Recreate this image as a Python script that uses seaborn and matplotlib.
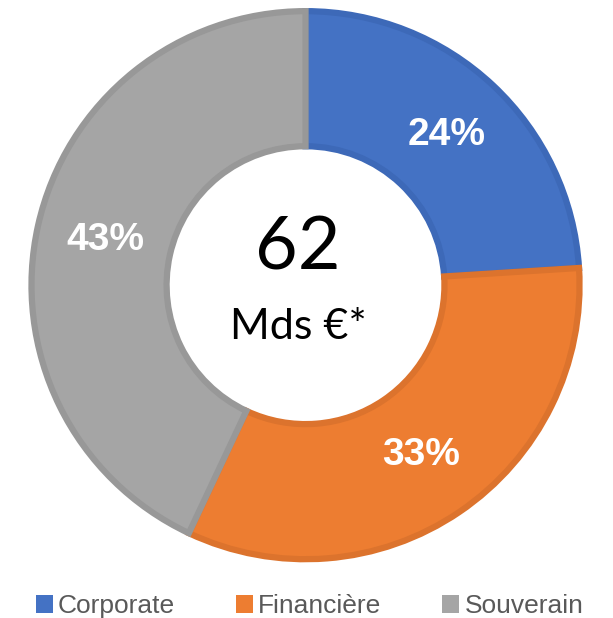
import numpy as np
import matplotlib
matplotlib.use("Agg")
import matplotlib.pyplot as plt
import seaborn as sns
from matplotlib.patches import Patch

# Data
categories = ["Corporate", "Financière", "Souverain"]
shares = [24, 33, 43]
fill_colors = ["#4472C4", "#ED7D31", "#A5A5A5"]
edge_colors = ["#3D69B8", "#DC732D", "#989898"]
center_value = "62"
center_unit = "Mds €*"

sns.set_theme(style="white")
plt.rcParams["font.family"] = ["Liberation Sans", "DejaVu Sans"]

fig = plt.figure(figsize=(6.13, 6.18), dpi=100)
ax = fig.add_axes([0.4984 - 0.4515, 0.5385 - 0.4478, 0.903, 0.8957])

wedges, texts, autotexts = ax.pie(
    shares,
    colors=fill_colors,
    startangle=90,
    counterclock=False,
    radius=1.0,
    autopct=lambda p: f"{p:.0f}%",
    pctdistance=0.75,
    wedgeprops=dict(width=0.493, linewidth=4.5),
    textprops=dict(color="white", fontsize=28, fontweight="bold"),
)
# darker outline drawn only inside each slice
for w, ec in zip(wedges, edge_colors):
    w.set_edgecolor(ec)
    w.set_clip_path(w)

ax.text(-0.027, 0.057, center_value, ha="center", va="baseline",
        fontsize=53, family=["Lato", "DejaVu Sans"], color="black")
ax.text(-0.027, -0.195, center_unit, ha="center", va="baseline",
        fontsize=31, family=["Lato", "DejaVu Sans"], color="black")

ax.set_xlim(-1.01, 1.01)
ax.set_ylim(-1.01, 1.01)
ax.set_aspect("equal")
ax.axis("off")

handles = [Patch(facecolor=c, edgecolor="none") for c in fill_colors]
fig.legend(handles, categories, loc="center", ncol=3,
           bbox_to_anchor=(0.505, 0.019), frameon=False, fontsize=19,
           labelcolor="#595959", handlelength=0.65, handleheight=0.65,
           handletextpad=0.2, columnspacing=2.3, borderpad=0)

fig.savefig("out.png", dpi=100)
